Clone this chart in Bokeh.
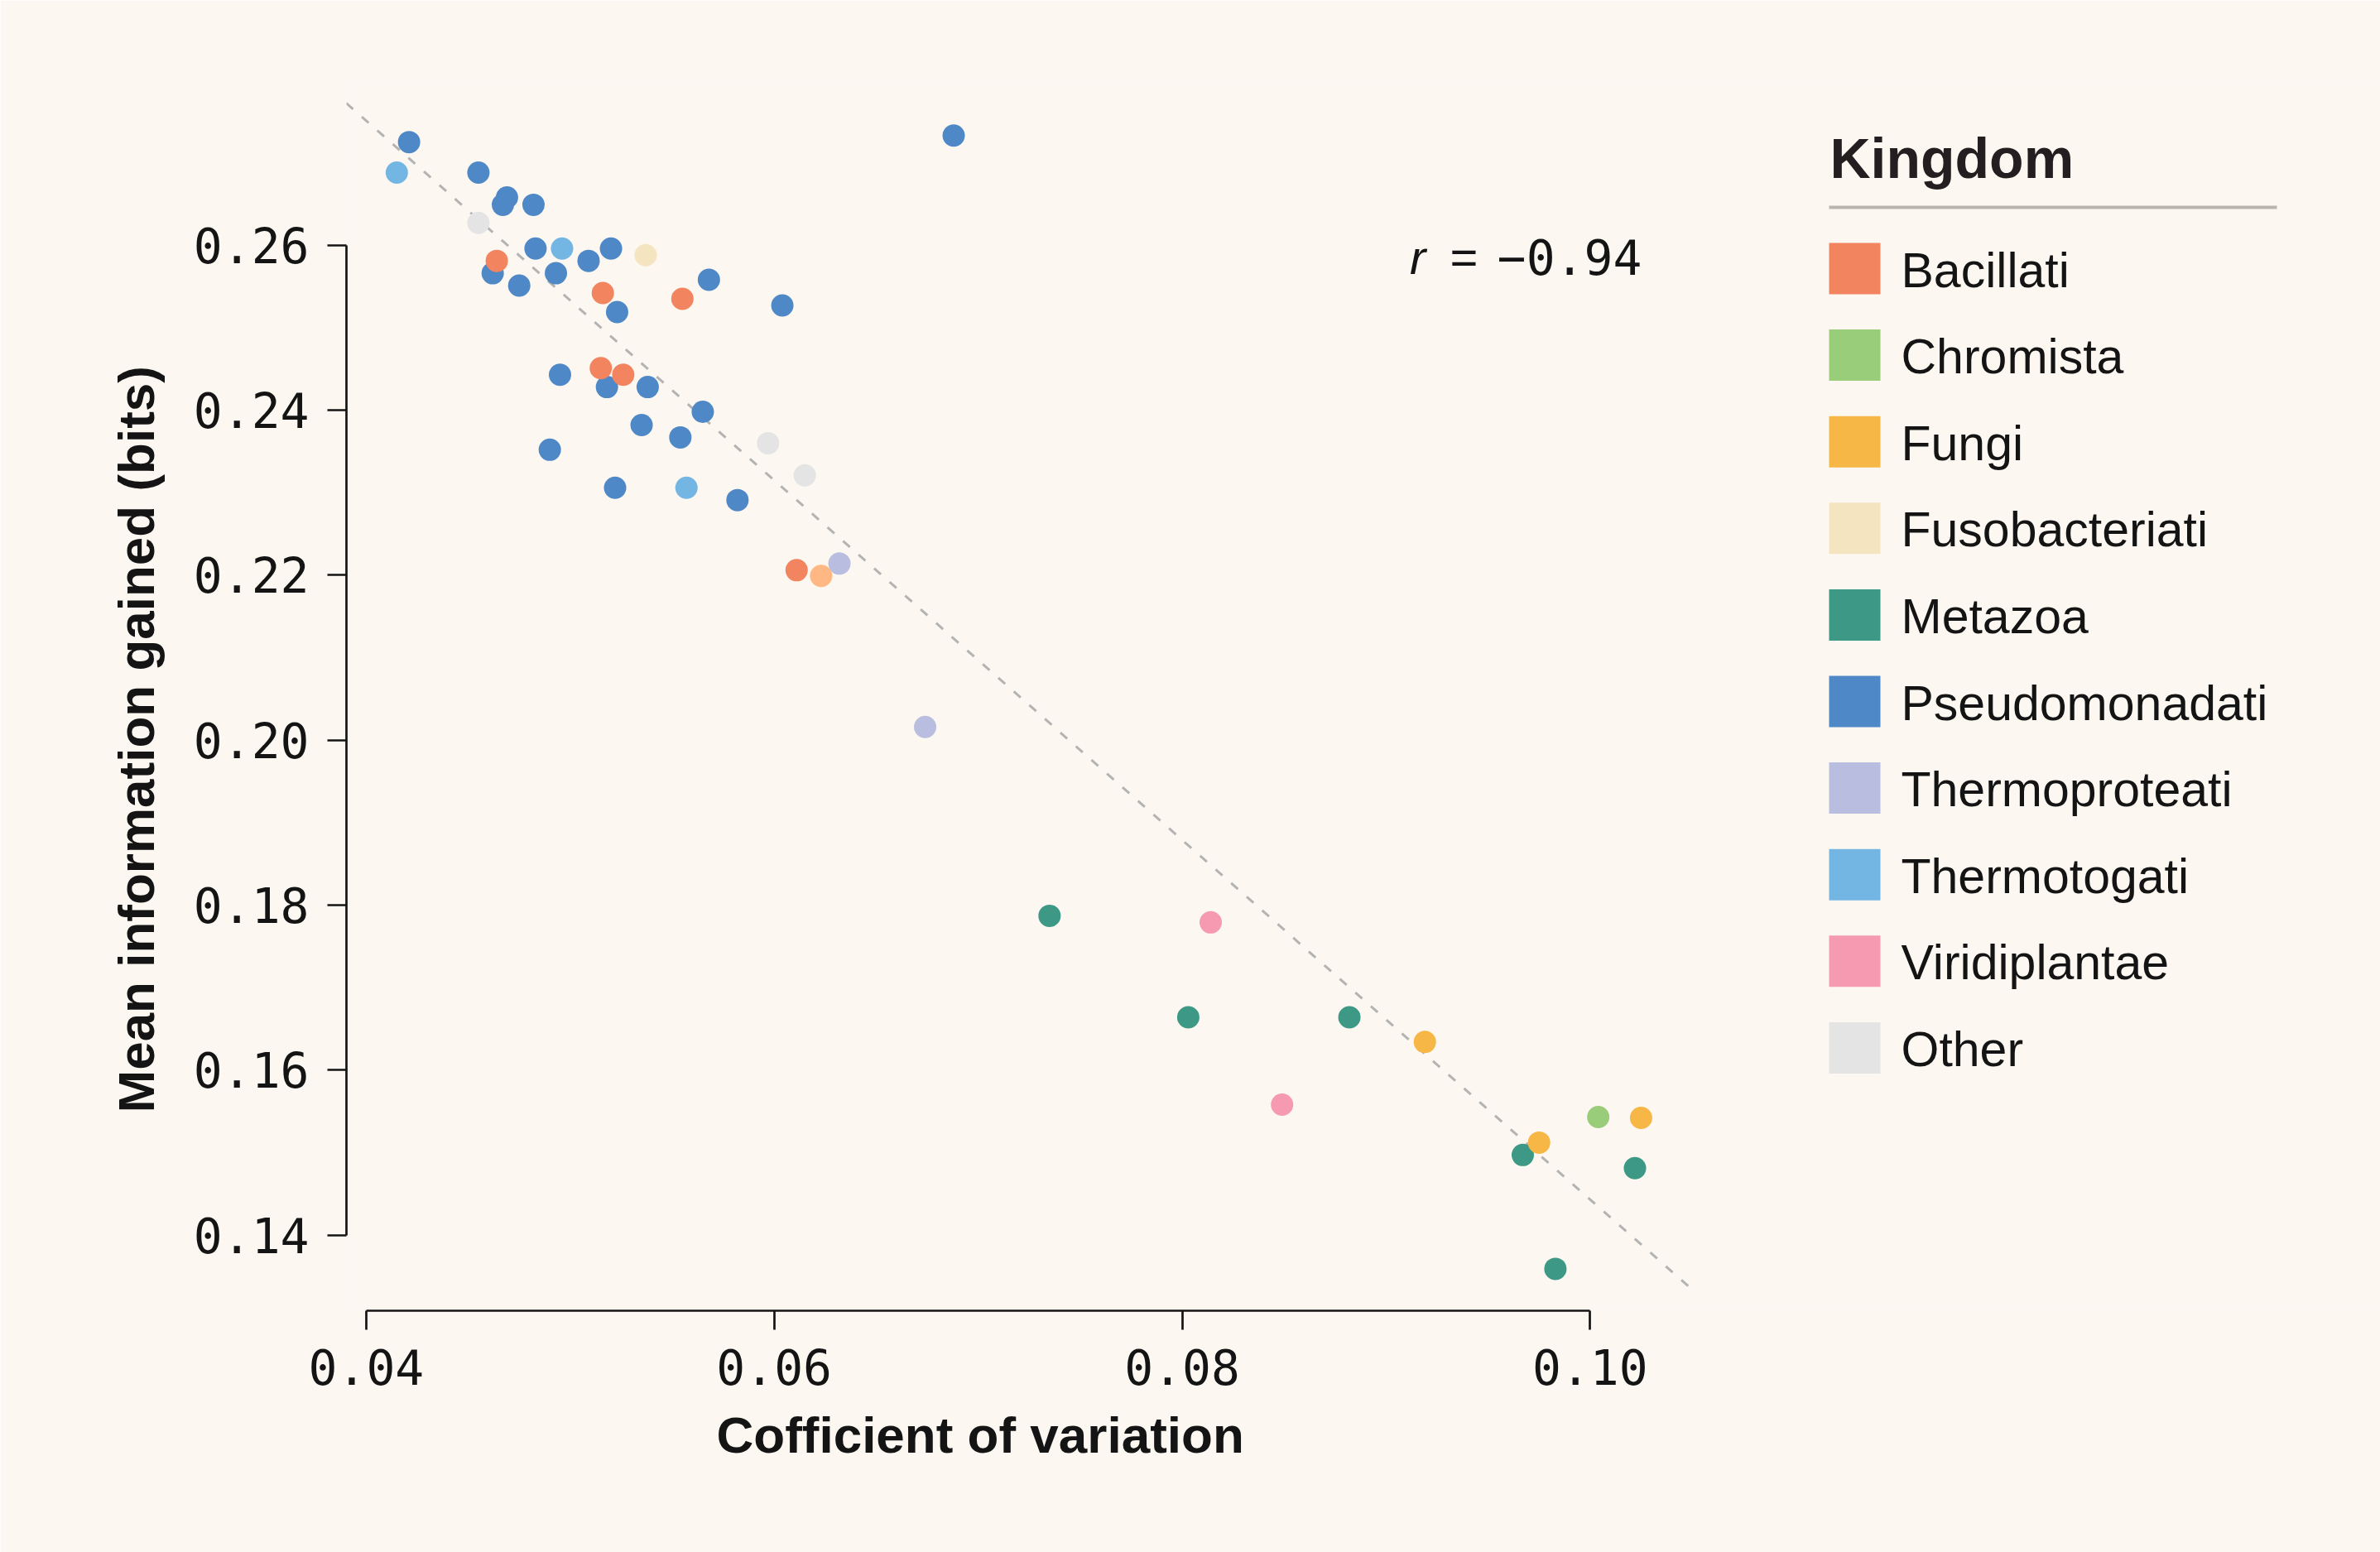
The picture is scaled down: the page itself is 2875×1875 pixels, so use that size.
from bokeh.plotting import figure
from bokeh.models import Range1d, FixedTicker, PrintfTickFormatter, Label, ColumnDataSource, Title
from bokeh.embed import file_html
from bokeh.resources import INLINE
from bokeh.core.properties import value

BG = "#FCF8F1"
INK = "#141414"

# ---- legend categories ----
kingdoms = ["Bacillati", "Chromista", "Fungi", "Fusobacteriati", "Metazoa",
            "Pseudomonadati", "Thermoproteati", "Thermotogati", "Viridiplantae", "Other"]
kingdom_colors = ["#F2845F", "#9ACD79", "#F6B746", "#F5E4C0", "#3D9886",
                  "#4F88C6", "#B9BDE0", "#74B6E3", "#F59AB1", "#E4E4E4"]
unlisted_name = "Unlisted"
unlisted_color = "#FFB884"

# ---- data points (coefficient of variation, mean information gained, kingdom) ----
cv = [0.0421, 0.0455, 0.0469, 0.0467, 0.0482, 0.0483, 0.0520, 0.0509, 0.0462, 0.0493,
      0.0475, 0.0568, 0.0523, 0.0604, 0.0688, 0.0495, 0.0518, 0.0538, 0.0565, 0.0535,
      0.0554, 0.0490, 0.0522, 0.0582,
      0.0415, 0.0496, 0.0557,
      0.0455, 0.0597, 0.0615,
      0.0537,
      0.0464, 0.0516, 0.0555, 0.0515, 0.0526, 0.0611,
      0.0623,
      0.0632, 0.0674,
      0.0735, 0.0803, 0.0882, 0.0967, 0.1022, 0.0983,
      0.0814, 0.0849,
      0.0919, 0.1025, 0.0975,
      0.1004]
info = [0.2725, 0.2688, 0.2658, 0.2649, 0.2649, 0.2596, 0.2596, 0.2581, 0.2566, 0.2566,
        0.2551, 0.2558, 0.2519, 0.2527, 0.2733, 0.2443, 0.2428, 0.2428, 0.2398, 0.2382,
        0.2367, 0.2352, 0.2306, 0.2291,
        0.2688, 0.2596, 0.2306,
        0.2627, 0.2360, 0.2321,
        0.2588,
        0.2581, 0.2542, 0.2535, 0.2451, 0.2443, 0.2206,
        0.2199,
        0.2214, 0.2016,
        0.1787, 0.1664, 0.1664, 0.1497, 0.1481, 0.1359,
        0.1779, 0.1558,
        0.1634, 0.1542, 0.1512,
        0.1543]
kingdom_of_point = (["Pseudomonadati"] * 24 + ["Thermotogati"] * 3 + ["Other"] * 3 +
                    ["Fusobacteriati"] + ["Bacillati"] * 6 + [unlisted_name] +
                    ["Thermoproteati"] * 2 + ["Metazoa"] * 6 + ["Viridiplantae"] * 2 +
                    ["Fungi"] * 3 + ["Chromista"])

# regression line end points
trend_x = [0.03902, 0.10482]
trend_y = [0.27723, 0.13380]

r_text = "\u22120.94"
x_title = "Cofficient of variation"
y_title = "Mean information gained (bits)"
legend_title = "Kingdom"

x_ticks = [0.04, 0.06, 0.08, 0.10]
y_ticks = [0.14, 0.16, 0.18, 0.20, 0.22, 0.24, 0.26]

color_map = dict(zip(kingdoms, kingdom_colors))
color_map[unlisted_name] = unlisted_color
point_colors = [color_map[k] for k in kingdom_of_point]

# ---- figure ----
W, H = 2875, 1875
FL, FB, FT = 418, 292, 100          # frame borders (px)
XS, YS = 24640.0, 9965.0            # px per data unit
x0, y0 = 0.03903, 0.13082
x1 = x0 + (W - FL) / XS
y1 = y0 + (H - FB - FT) / YS

p = figure(width=W, height=H,
           x_range=Range1d(x0, x1), y_range=Range1d(y0, y1),
           output_backend="svg", toolbar_location=None,
           min_border_left=FL, min_border_right=0, min_border_top=FT, min_border_bottom=FB,
           background_fill_color=BG, border_fill_color=BG, outline_line_color=None)
p.grid.visible = False
# pixel-space ranges for the legend block (origin at the page's top-left)
p.extra_x_ranges = {"px": Range1d(FL, W)}
p.extra_y_ranges = {"px": Range1d(H - FB, FT)}

p.line(trend_x, trend_y, line_color="#B3B3B3", line_width=3, line_dash="11 14")

src = ColumnDataSource(dict(x=cv, y=info, c=point_colors, k=kingdom_of_point))
p.scatter("x", "y", source=src, size=27, fill_color="c", line_color=None)

for ax, ticks, bounds in ((p.xaxis[0], x_ticks, (0.04, 0.10)), (p.yaxis[0], y_ticks, (0.14, 0.26))):
    ax.ticker = FixedTicker(ticks=ticks)
    ax.formatter = PrintfTickFormatter(format="%.2f")
    ax.bounds = bounds
    ax.minor_tick_line_color = None
    ax.major_tick_in = 0
    ax.major_tick_out = 23
    ax.axis_line_width = 2.7
    ax.major_tick_line_width = 2.7
    ax.axis_line_color = INK
    ax.major_tick_line_color = INK
    ax.major_label_text_font = "DejaVu Sans Mono"
    ax.major_label_text_font_size = "58px"
    ax.major_label_text_color = INK
p.xaxis.major_label_standoff = 23
p.yaxis.major_label_standoff = 22

# axis titles, aligned to the axis bounds (offset from the frame edge)
p.add_layout(Title(text=x_title, align="left", offset=447, standoff=42,
                   text_font="Liberation Sans", text_font_style="bold",
                   text_font_size="62px", text_color=INK), "below")
p.add_layout(Title(text=y_title, align="left", offset=239, standoff=64,
                   text_font="Liberation Sans", text_font_style="bold",
                   text_font_size="62px", text_color=INK), "left")

# correlation annotation
r_x, r_y = 0.10254, 0.25857
p.add_layout(Label(x=r_x, y=r_y, text=r_text, text_align="right", text_baseline="middle",
                   text_font="DejaVu Sans Mono", text_font_size="58px", text_color=INK))
p.add_layout(Label(x=r_x, y=r_y, x_offset=-198, text="=", text_align="right", text_baseline="middle",
                   text_font="Liberation Sans", text_font_size="58px", text_color=INK))
p.add_layout(Label(x=r_x, y=r_y, x_offset=-261, text="r", text_align="right", text_baseline="middle",
                   text_font="Liberation Sans", text_font_style="italic",
                   text_font_size="58px", text_color=INK))

# ---- legend block (pixel coordinates) ----
sw_left, sw_size = 2209, 62
first_y, step_y = 324, 104.6
label_x = 2296
ys = [first_y + i * step_y for i in range(len(kingdoms))]

p.text(x=[2210], y=[190], text=[legend_title], text_font=value("Liberation Sans"),
       text_font_style="bold", text_font_size="68px", text_color="#231F20",
       text_baseline="middle", x_range_name="px", y_range_name="px")
p.line([sw_left, 2750], [250, 250], line_color="#B9B4AC", line_width=4,
       x_range_name="px", y_range_name="px")
p.rect(x=[sw_left + sw_size / 2] * len(kingdoms), y=ys, width=sw_size, height=sw_size,
       fill_color=kingdom_colors, line_color=None, x_range_name="px", y_range_name="px")
p.text(x=[label_x] * len(kingdoms), y=[v + 2 for v in ys], text=kingdoms,
       text_font=value("Liberation Sans"), text_font_size="59px", text_color=INK,
       text_baseline="middle", x_range_name="px", y_range_name="px")

open("out.html", "w").write(file_html(p, INLINE))
